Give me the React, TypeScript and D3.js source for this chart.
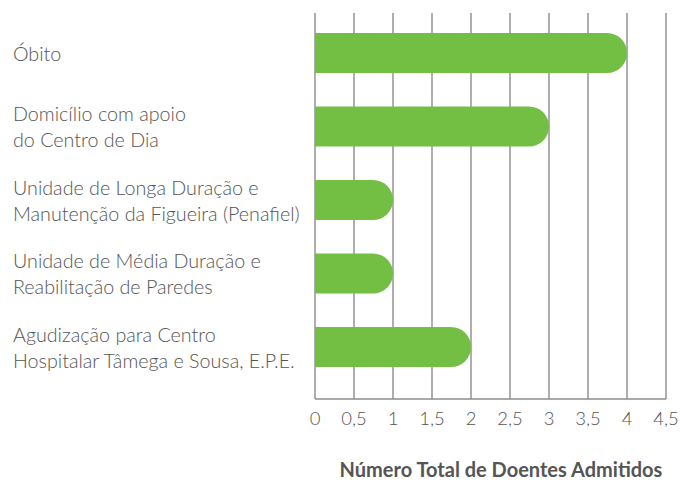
import React from "react";
import * as d3 from "d3";

const categories = [
  "Óbito",
  "Domicílio com apoio\ndo Centro de Dia",
  "Unidade de Longa Duração e\nManutenção da Figueira (Penafiel)",
  "Unidade de Média Duração e\nReabilitação de Paredes",
  "Agudização para Centro\nHospitalar Tâmega e Sousa, E.P.E.",
];
const values = [4, 3, 1, 1, 2];
const ticks = [0, 0.5, 1, 1.5, 2, 2.5, 3, 3.5, 4, 4.5];
const axisTitle = "Número Total de Doentes Admitidos";

const W = 691;
const H = 482;
const GREEN = "#72bf44";
const GRID = "#8c8c8c";
const TEXT = "#555555";
const FONT = "Lato, 'Open Sans', sans-serif";

export default function App() {
  const x = d3.scaleLinear().domain([0, 4.5]).range([315, 666]);
  const y = d3
    .scaleBand<string>()
    .domain(categories)
    .range([16.25, 383.75])
    .paddingInner(0.456)
    .paddingOuter(0.228);
  const gridTop = 13;
  const gridBottom = 399;
  const fmt = (v: number) => String(v).replace(".", ",");

  const barPath = (v: number, cat: string) => {
    const y0 = y(cat)!;
    const h = y.bandwidth();
    const r = h / 2;
    const x0 = x(0);
    const x1 = x(v);
    const p = d3.path();
    p.moveTo(x0, y0);
    p.lineTo(x1 - r, y0);
    p.arc(x1 - r, y0 + r, r, -Math.PI / 2, Math.PI / 2);
    p.lineTo(x0, y0 + h);
    p.closePath();
    return p.toString();
  };

  return (
    <svg width={W} height={H} style={{ position: "absolute", left: 0, top: 0 }}>
      <rect width={W} height={H} fill="#fff" />
      {ticks.map((t) => (
        <line
          key={t}
          x1={x(t)}
          x2={x(t)}
          y1={gridTop}
          y2={gridBottom}
          stroke={GRID}
          strokeWidth={1.4}
        />
      ))}
      <line x1={x(0)} x2={x(4.5)} y1={gridBottom} y2={gridBottom} stroke={GRID} strokeWidth={1.4} />
      {categories.map((c, i) => (
        <path key={c} d={barPath(values[i], c)} fill={GREEN} />
      ))}
      {categories.map((c) => {
        const lines = c.split("\n");
        const cy = y(c)! + y.bandwidth() / 2;
        const lh = 26;
        const firstBaseline = cy + 7.5 - ((lines.length - 1) * lh) / 2;
        return (
          <text key={c} fontFamily={FONT} fontWeight={300} fontSize={19.7} fill={TEXT}>
            {lines.map((l, k) => (
              <tspan key={k} x={13} y={firstBaseline + k * lh}>
                {l}
              </tspan>
            ))}
          </text>
        );
      })}
      {ticks.map((t) => (
        <text
          key={"t" + t}
          x={x(t)}
          y={425}
          textAnchor="middle"
          fontFamily={FONT}
          fontWeight={300}
          fontSize={18.5}
          fill={TEXT}
        >
          {fmt(t)}
        </text>
      ))}
      <text
        x={501}
        y={477}
        textAnchor="middle"
        fontFamily={FONT}
        fontWeight={700}
        fontSize={20}
        fill={TEXT}
      >
        {axisTitle}
      </text>
    </svg>
  );
}
